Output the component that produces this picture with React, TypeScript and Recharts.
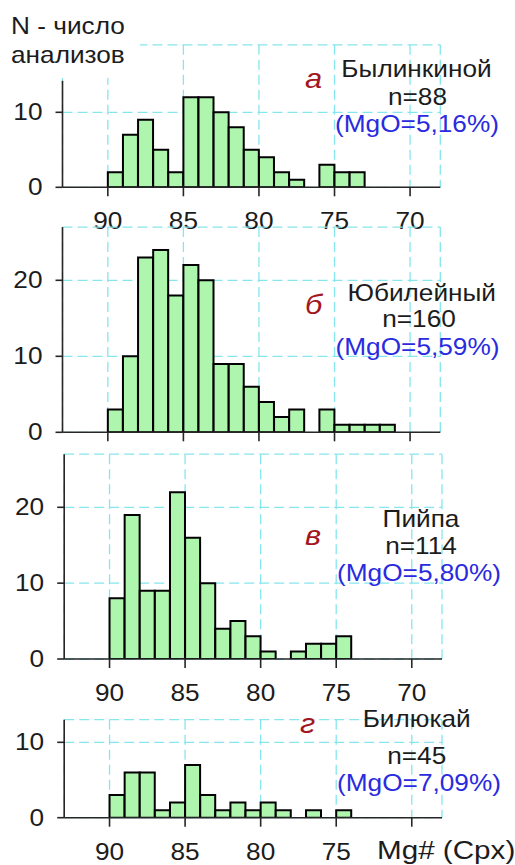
import React from "react";
import { Bar, BarChart, CartesianGrid, ReferenceLine, XAxis, YAxis } from "recharts";

// Mg# bins one unit wide, named by their upper edge (93–92 ... 69–68)
const binTops = [93, 92, 91, 90, 89, 88, 87, 86, 85, 84, 83, 82, 81, 80, 79, 78, 77, 76, 75, 74, 73, 72, 71, 70, 69];
const mgTicks = [90, 85, 80, 75, 70];
const mgLabelsFull = [90, 85, 80, 75, 70];
const mgLabelsLast = [90, 85, 80, 75];

// number of analyses per bin
const bylinkinoy = [0, 0, 0, 2, 7, 9, 5, 2, 12, 12, 10, 8, 5, 4, 2, 1, 0, 3, 2, 2, 0, 0, 0, 0, 0];
const yubileyny = [0, 0, 0, 3, 10, 23, 24, 18, 22, 20, 9, 9, 6, 4, 2, 3, 0, 3, 1, 1, 1, 1, 0, 0, 0];
const piypa = [0, 0, 0, 8, 19, 9, 9, 22, 16, 10, 4, 5, 3, 1, 0, 1, 2, 2, 3, 0, 0, 0, 0, 0, 0];
const bilyukay = [0, 0, 0, 3, 6, 6, 1, 2, 7, 3, 1, 2, 1, 2, 1, 0, 1, 0, 1, 0, 0, 0, 0, 0, 0];

const FONT = "'Liberation Sans', Arial, sans-serif";
const WIDEN = 1.14;
const GRID = "#86e6ee";
const AXIS = "#262626";
const BAR_FILL = "#aef5ae";
const RED = "#a3161f";
const BLUE = "#2a2ae0";
const INK = "#1c1c1c";

const PLOT_W = 377.8;

const panels = [
  { id: "a", counts: bylinkinoy, boxTop: 0, boxHeight: 245, left: 62.5, plotTop: 44.8, plotBottom: 187.3, yMax: 19, axisTop: 14.2, yTicks: [0, 10], labels: mgLabelsFull },
  { id: "b", counts: yubileyny, boxTop: 205, boxHeight: 245, left: 62.5, plotTop: 227.1, plotBottom: 432.3, yMax: 27, axisTop: 27, yTicks: [0, 10, 20], labels: [] },
  { id: "c", counts: piypa, boxTop: 440, boxHeight: 270, left: 64.2, plotTop: 454.2, plotBottom: 659, yMax: 27, axisTop: 27, yTicks: [0, 10, 20], labels: mgLabelsFull },
  { id: "d", counts: bilyukay, boxTop: 705, boxHeight: 160, left: 64.2, plotTop: 719.7, plotBottom: 817.7, yMax: 13, axisTop: 13, yTicks: [0, 10], labels: mgLabelsLast },
];

// horizontally widened text, anchored at (x, y)
function WideText({ x, y, anchor = "start", size = 23, fill = INK, italic = false, children }: any) {
  return (
    <text
      transform={`translate(${x} ${y}) scale(${WIDEN} 1)`}
      textAnchor={anchor}
      fontSize={size}
      fill={fill}
      fontStyle={italic ? "italic" : "normal"}
      fontFamily={FONT}
    >
      {children}
    </text>
  );
}

const MgTick = ({ x, y, payload, shown }: any) =>
  shown.includes(payload.value) ? (
    <WideText x={x} y={y + 33} anchor="middle">
      {payload.value}
    </WideText>
  ) : (
    <g />
  );

const CountTick = ({ x, y, payload }: any) => (
  <WideText x={x} y={y + 8} anchor="end">
    {payload.value}
  </WideText>
);

function Panel({ p }: any) {
  const data = binTops.map((top, i) => ({ bin: `${top}`, top, n: p.counts[i] }));
  const right = 515 - p.left - PLOT_W;
  return (
    <div style={{ position: "absolute", left: 0, top: p.boxTop }}>
      <BarChart
        width={515}
        height={p.boxHeight}
        data={data}
        barCategoryGap={0}
        barGap={0}
        margin={{ top: p.plotTop - p.boxTop, right, bottom: 0, left: 0 }}
      >
        <CartesianGrid xAxisId="mg" stroke={GRID} strokeWidth={1.3} strokeDasharray="10 5" />
        <XAxis xAxisId="bin" dataKey="bin" type="category" hide height={0} />
        <XAxis
          xAxisId="mg"
          dataKey="top"
          type="number"
          domain={[68, 93]}
          allowDataOverflow
          reversed
          ticks={mgTicks}
          interval={0}
          height={p.boxTop + p.boxHeight - p.plotBottom}
          axisLine={{ stroke: AXIS, strokeWidth: 1.6 }}
          tickLine={{ stroke: AXIS, strokeWidth: 1.6 }}
          tickSize={9}
          tickMargin={0}
          tick={(props: any) => <MgTick {...props} shown={p.labels} />}
        />
        <YAxis
          width={p.left}
          domain={[0, p.yMax]}
          allowDataOverflow
          ticks={p.yTicks}
          interval={0}
          axisLine={false}
          tickLine={{ stroke: AXIS, strokeWidth: 1.6 }}
          tickSize={7}
          tickMargin={13}
          tick={(props: any) => <CountTick {...props} />}
        />
        <ReferenceLine
          xAxisId="mg"
          segment={[
            { x: 93, y: 0 },
            { x: 93, y: p.axisTop },
          ]}
          stroke={AXIS}
          strokeWidth={1.6}
          ifOverflow="visible"
        />
        <Bar xAxisId="bin" dataKey="n" fill={BAR_FILL} stroke="#000" strokeWidth={2} isAnimationActive={false} />
      </BarChart>
    </div>
  );
}

// deposit name, number of analyses and mean MgO for each panel
const notes = [
  { letter: "а", letterX: 305, letterY: 88, name: "Былинкиной", n: "n=88", mgo: "(MgO=5,16%)", lines: [76.7, 105, 132], cx: [416.5, 417.5, 417] },
  { letter: "б", letterX: 305, letterY: 314, name: "Юбилейный", n: "n=160", mgo: "(MgO=5,59%)", lines: [301, 327, 355], cx: [421.7, 419, 417.5] },
  { letter: "в", letterX: 305, letterY: 545, name: "Пийпа", n: "n=114", mgo: "(MgO=5,80%)", lines: [527.3, 554, 580.5], cx: [421, 421, 419] },
  { letter: "г", letterX: 300, letterY: 733, name: "Билюкай", n: "n=45", mgo: "(MgO=7,09%)", lines: [726.7, 764, 790.5], cx: [416.7, 416.7, 419] },
];

function Annotations() {
  return (
    <svg width={515} height={865} style={{ position: "absolute", left: 0, top: 0, pointerEvents: "none" }}>
      <rect x={0} y={0} width={140} height={78} fill="#fff" />
      <WideText x={11} y={33.5}>N - число</WideText>
      <WideText x={11} y={63}>анализов</WideText>
      {notes.map((t) => (
        <g key={t.name}>
          <WideText x={t.letterX} y={t.letterY} size={27} fill={RED} italic>
            {t.letter}
          </WideText>
          <WideText x={t.cx[0]} y={t.lines[0]} anchor="middle">
            {t.name}
          </WideText>
          <WideText x={t.cx[1]} y={t.lines[1]} anchor="middle">
            {t.n}
          </WideText>
          <WideText x={t.cx[2]} y={t.lines[2]} anchor="middle" fill={BLUE}>
            {t.mgo}
          </WideText>
        </g>
      ))}
      <WideText x={377} y={859} size={26}>Mg# (Cpx)</WideText>
    </svg>
  );
}

export default function App() {
  return (
    <div style={{ position: "absolute", left: 0, top: 0, width: 515, height: 865, background: "#fff", overflow: "hidden" }}>
      {panels.map((p) => (
        <Panel key={p.id} p={p} />
      ))}
      <Annotations />
    </div>
  );
}
